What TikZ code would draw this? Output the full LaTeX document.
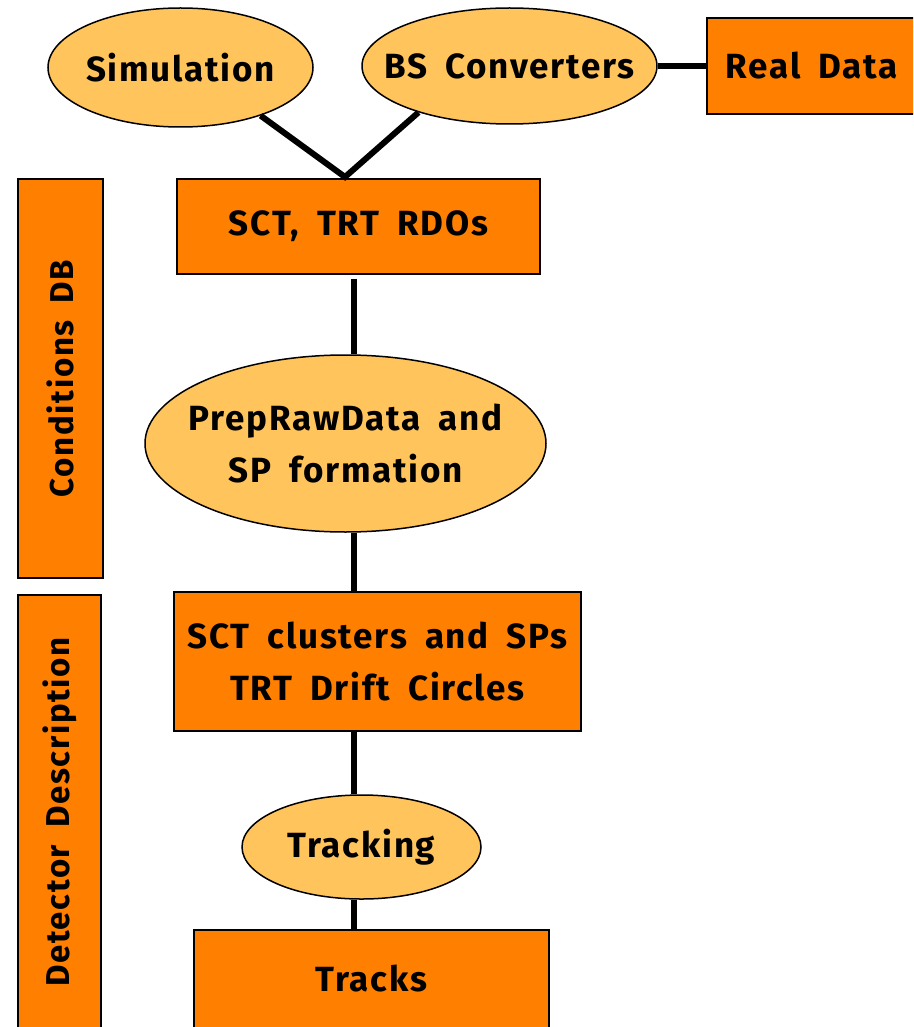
\documentclass[tikz,border=0pt]{standalone}
\usepackage{fontspec}
\setmainfont{Fira Sans}[LetterSpace=5, WordSpace=1.8]
\usetikzlibrary{shapes.geometric}
\definecolor{boxorange}{RGB}{255,127,0}
\definecolor{ellorange}{RGB}{255,196,92}
\tikzset{
  every node/.style={font=\fontsize{35}{52}\selectfont\bfseries, align=center, inner sep=0pt},
  sidetext/.style={font=\fontsize{33}{40}\selectfont\bfseries, rotate=90},
  procbox/.style={draw=black, line width=1.5pt, fill=boxorange, rectangle},
  procell/.style={draw=black, line width=1.5pt, fill=ellorange, ellipse},
  link/.style={draw=black, line width=6pt}
}
\begin{document}
\begin{tikzpicture}[x=1pt,y=-1pt]
\useasboundingbox (0,0) rectangle (913,1027);
\clip (0,0) rectangle (913,1027);
% side bars
\node[procbox, minimum width=85, minimum height=399] (cond) at (60.5,378.5) {};
\node[sidetext] (condt) at (cond.center) {Conditions DB};
\node[procbox, minimum width=83, minimum height=440] (det) at (59.5,815) {};
\node[sidetext] (dett) at (59.5,812) {Detector Description};
% top
\node[procell, minimum width=265, minimum height=119] (sim) at (180.5,67.5) {};
\node (simt) at (sim.center) {Simulation};
\node[procell, minimum width=295, minimum height=116] (bs) at (509.5,66) {};
\node (bst) at (bs.center) {BS Converters};
\node[procbox, minimum width=210, minimum height=96, anchor=west] (real) at (706,66) {Real Data};
% chain
\node[procbox, minimum width=363, minimum height=95] (rdo) at (358.5,226.5) {SCT, TRT RDOs};
\node[procell, minimum width=401, minimum height=177] (prep) at (345.5,443.5) {};
\node (prept) at (prep.center) {PrepRawData and\\SP formation};
\node[procbox, minimum width=407, minimum height=139] (clus) at (377.5,661.5) {SCT clusters and SPs\\TRT Drift Circles};
\node[procell, minimum width=239, minimum height=104] (trk) at (361.5,847) {};
\node (trkt) at (trk.center) {Tracking};
\node[procbox, minimum width=355, minimum height=98] (tracks) at (371.5,979) {Tracks};
% connectors
\coordinate (v) at (345,177);
\draw[link, line join=miter] (sim.-31.6) -- (v) -- (bs.207.5);
\draw[link] (bs.east) -- (real.west);
\draw[link] (rdo.south -| 354,0) ++(0,4) -- (prep.north -| 354,0);
\draw[link] (prep.south -| 354,0) -- (clus.north -| 354,0);
\draw[link] (clus.south -| 354,0) -- (trk.north -| 354,0);
\draw[link] (trk.south -| 354,0) -- (tracks.north -| 354,0);
\end{tikzpicture}
\end{document}
